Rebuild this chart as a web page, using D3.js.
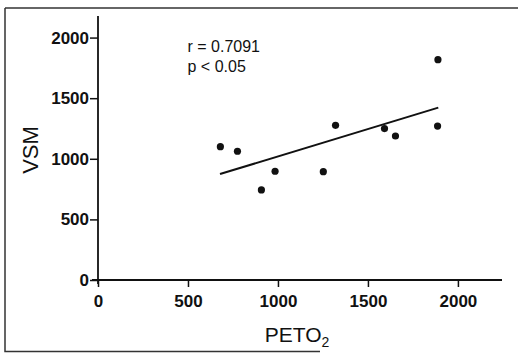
<html>
<head>
  <script src="https://d3js.org/d3.v7.min.js"></script>
  <style>
    body{ margin:0; background:#fff; }
    svg{ display:block; font-family: "Liberation Sans", Arial, sans-serif; }
  </style>
</head>
<body>
  <script type="text/javascript">

    // data
    var petoValues = [680, 775, 908, 984, 1252, 1320, 1592, 1653, 1887, 1889]
    var vsmValues  = [1100, 1062, 743, 897, 894, 1276, 1249, 1188, 1270, 1818]
    var fitX = [678, 1891]
    var fitY = [874, 1422]
    var xTicks = [0, 500, 1000, 1500, 2000]
    var yTicks = [0, 500, 1000, 1500, 2000]
    var statLines = ["r = 0.7091", "p < 0.05"]

    var screen = {width:525, height:353}
    var margins = {top:16, right:23, bottom:73, left:98}

    var svg = d3.select("body").append("svg")
      .attr("width", screen.width)
      .attr("height", screen.height)

    var width = screen.width - margins.left - margins.right
    var height = screen.height - margins.top - margins.bottom

    // scale
    var xScale = d3.scaleLinear()
        .domain([0, 2245])
        .range([0, width])
    var yScale = d3.scaleLinear()
        .domain([0, 2178])
        .range([height, 0])

    // scanned frame (top, left, bottom)
    var frame = svg.append("g").attr("stroke", "#333").attr("stroke-width", 1.5).attr("fill", "none")
    frame.append("path").attr("d", "M5,8H518")
    frame.append("path").attr("d", "M5,8V351.5H320")

    var plotLand = svg.append("g")
      .attr('transform', 'translate(' + margins.left + ',' + margins.top + ')')

    // axes
    var xAxis = d3.axisBottom(xScale).tickValues(xTicks).tickFormat(d3.format("d")).tickSize(7).tickPadding(8)
    var yAxis = d3.axisLeft(yScale).tickValues(yTicks).tickFormat(d3.format("d")).tickSize(8).tickPadding(1)

    var gx = plotLand.append("g").attr("transform", "translate(0," + height + ")").call(xAxis)
    var gy = plotLand.append("g").call(yAxis)

    ;[gx, gy].forEach(function(g){
      g.attr("font-size", null).attr("font-family", null)
      g.select(".domain").attr("stroke", "#111").attr("stroke-width", 1.8)
      g.selectAll(".tick line").attr("stroke", "#111").attr("stroke-width", 1.5)
      g.selectAll(".tick text")
        .attr("fill", "#111")
        .attr("font-size", 17)
        .attr("font-weight", "bold")
    })
    gx.select(".domain").attr("d", "M-6,0H" + width)
    gy.select(".domain").attr("d", "M0," + (height + 4) + "V0")

    // regression line
    plotLand.append("line")
      .attr("x1", xScale(fitX[0])).attr("y1", yScale(fitY[0]))
      .attr("x2", xScale(fitX[1])).attr("y2", yScale(fitY[1]))
      .attr("stroke", "#111").attr("stroke-width", 2)

    // points
    plotLand.selectAll("circle")
      .data(petoValues)
      .enter()
      .append("circle")
      .attr("cx", function(d){ return xScale(d) })
      .attr("cy", function(d, i){ return yScale(vsmValues[i]) })
      .attr("r", 3.6)
      .attr("fill", "#111")

    // stats text
    plotLand.selectAll(".stat")
      .data(statLines)
      .enter()
      .append("text")
      .attr("class", "stat")
      .attr("x", 89.5)
      .attr("y", function(d, i){ return 36 + i * 19.5 })
      .attr("fill", "#111")
      .attr("font-size", 16)
      .text(function(d){ return d })

    // axis titles
    var xTitle = svg.append("text")
      .attr("x", 297)
      .attr("y", 342)
      .attr("text-anchor", "middle")
      .attr("fill", "#111")
      .attr("font-size", 21)
    xTitle.append("tspan").text("PETO")
    xTitle.append("tspan").attr("dy", 5).attr("font-size", 14).text("2")

    svg.append("text")
      .attr("transform", "translate(38,150) rotate(-90)")
      .attr("text-anchor", "middle")
      .attr("fill", "#111")
      .attr("font-size", 22)
      .text("VSM")

  </script>
</body>
</html>
